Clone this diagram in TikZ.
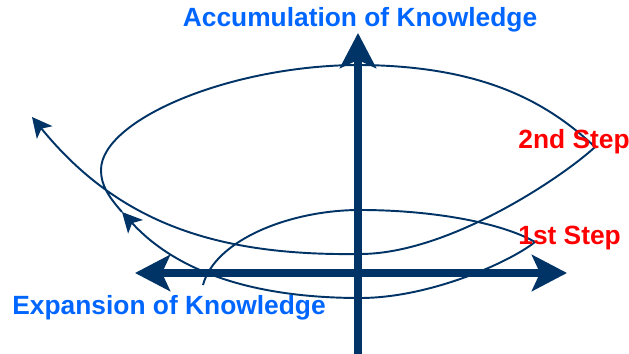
\documentclass[tikz,border=0pt]{standalone}
\usepackage{fontspec}
\setmainfont{Liberation Sans}
\usetikzlibrary{arrows.meta}
\definecolor{navy}{HTML}{003366}
\definecolor{knowblue}{HTML}{0066FF}
\definecolor{stepred}{HTML}{FF0000}

\tikzset{
  bigtip/.tip={Stealth[length=7mm,width=7.2mm,inset=1.6mm]},
  smalltip/.tip={Stealth[length=4mm,width=4mm,inset=1mm]},
  axis/.style={navy, line width=4pt},
  spiral/.style={navy, line width=1.1pt, -{smalltip}},
  label/.style={font=\fontsize{15}{18}\selectfont\bfseries, inner sep=0pt},
}

\begin{document}
\begin{tikzpicture}[x=0.02cm, y=-0.02cm]
      \useasboundingbox (0,0) rectangle (629,354);
      % Define points
      \coordinate (vbot) at (358,354);
      \coordinate (vtop) at (358,33);
      \coordinate (hleft) at (135,273);
      \coordinate (hright) at (567,273);
      \coordinate (s0) at (203,285);
      \coordinate (t1) at (360,210);
      \coordinate (r1) at (535,242);
      \coordinate (b1) at (360,298);
      \coordinate (m) at (122,212);
      \coordinate (l2) at (101,170);
      \coordinate (t2) at (360,65);
      \coordinate (r2) at (595,147);
      \coordinate (b2) at (360,254);
      \coordinate (f) at (32,117);
      % Axes
      \draw[axis, -{bigtip}] (vbot) -- (vtop);
      \draw[axis, {bigtip}-{bigtip}] (hleft) -- (hright);
      % Spiral, first and second turn
      \draw[spiral] (s0) .. controls (215,240) and (290,210) .. (t1)
        .. controls (430,210) and (500,222) .. (r1)
        .. controls (510,262) and (430,298) .. (b1)
        .. controls (250,298) and (175,270) .. (m);
      \draw[spiral] (m) .. controls (108,196) and (101,185) .. (l2)
        .. controls (101,120) and (230,65) .. (t2)
        .. controls (480,66) and (545,100) .. (r2)
        .. controls (565,175) and (450,254) .. (b2)
        .. controls (220,256) and (120,225) .. (f);
      % Labels
      \node[label, knowblue, anchor=base] (accum) at (360,27) {Accumulation of Knowledge};
      \node[label, knowblue, anchor=base west] (expan) at (12,315) {Expansion of Knowledge};
      \node[label, stepred, anchor=base west] (step2) at (518,149) {2nd Step};
      \node[label, stepred, anchor=base west] (step1) at (518,245) {1st Step};
\end{tikzpicture}
\end{document}
